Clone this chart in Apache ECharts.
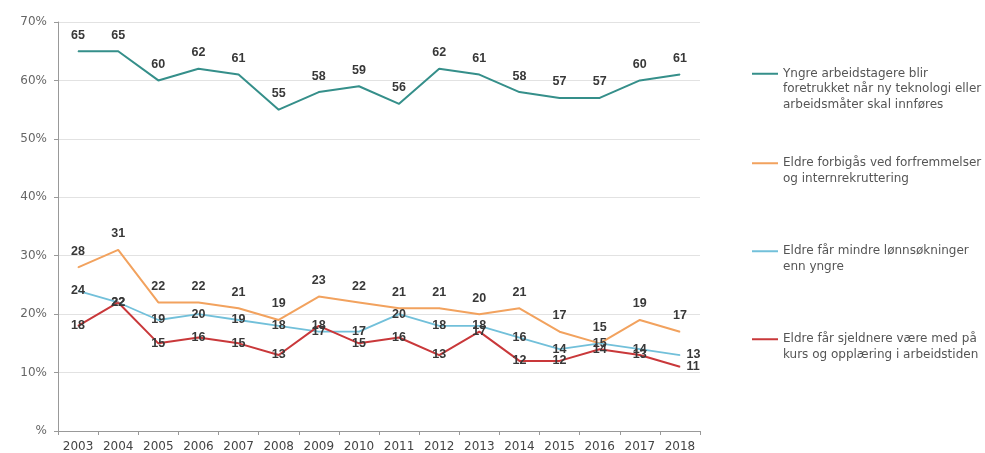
<!DOCTYPE html>
<html>
<head>
<meta charset="utf-8">
<script src="https://cdn.jsdelivr.net/npm/echarts@6/dist/echarts.min.js"></script>
<style>
html,body{margin:0;padding:0;background:#fff;}
#chart{width:985px;height:453px;}
</style>
</head>
<body>
<div id="chart"></div>
<script>
const years = ['2003','2004','2005','2006','2007','2008','2009','2010','2011','2012','2013','2014','2015','2016','2017','2018'];
const yngreForetrukket = [65,65,60,62,61,55,58,59,56,62,61,58,57,57,60,61];
const eldreForbigas = [28,31,22,22,21,19,23,22,21,21,20,21,17,15,19,17];
const eldreLonn = [24,22,19,20,19,18,17,17,20,18,18,16,14,15,14,13];
const eldreKurs = [18,22,15,16,15,13,18,15,16,13,17,12,12,14,13,11];
const seriesNames = [
  'Yngre arbeidstagere blir foretrukket når ny teknologi eller arbeidsmåter skal innføres',
  'Eldre forbigås ved forfremmelser og internrekruttering',
  'Eldre får mindre lønnsøkninger enn yngre',
  'Eldre får sjeldnere være med på kurs og opplæring i arbeidstiden'
];
const legendLines = [
  ['Yngre arbeidstagere blir','foretrukket når ny teknologi eller','arbeidsmåter skal innføres'],
  ['Eldre forbigås ved forfremmelser','og internrekruttering'],
  ['Eldre får mindre lønnsøkninger','enn yngre'],
  ['Eldre får sjeldnere være med på','kurs og opplæring i arbeidstiden']
];
const colors = ['#358f8a','#f2a25e','#72c0da','#c9383a'];
const legendCenters = [74,163,251,339];
const LH = 15.5;
const FONT = 'DejaVu Sans, sans-serif';

const chart = echarts.init(document.getElementById('chart'), null, {renderer:'canvas'});

function labelData(values, lastRight) {
  return values.map((v, i) => {
    if (lastRight && i === values.length - 1) {
      return {value: v, label: {position: 'right', distance: 6}};
    }
    return v;
  });
}

const labelBase = {show:true, color:'#383838', fontWeight:'bold', fontSize:12.5, fontFamily:'Liberation Sans, Arial, sans-serif'};

const legends = legendLines.map((lines, i) => {
  const padded = new Array(lines.length - 1).fill('').concat(lines);
  const total = padded.length * LH;
  return {
    data: [seriesNames[i]],
    left: 752,
    top: Math.round(legendCenters[i] - total / 2),
    padding: 0,
    orient: 'vertical',
    icon: 'rect',
    itemWidth: 26,
    itemHeight: 2,
    selectedMode: false,
    textStyle: {color:'#555', fontSize:12, lineHeight: LH, fontFamily: FONT},
    formatter: () => padded.join('\n')
  };
});

chart.setOption({
  animation: false,
  color: colors,
  legend: legends,
  grid: {left:58, right:285, top:22, bottom:22, containLabel:false},
  xAxis: {
    type: 'category',
    data: years,
    boundaryGap: true,
    axisLine: {lineStyle:{color:'#999'}},
    axisTick: {show:true, length:4, lineStyle:{color:'#999'}},
    axisLabel: {color:'#444', fontSize:12, margin:10, fontFamily: FONT}
  },
  yAxis: {
    type: 'value',
    min: 0, max: 70, interval: 10,
    axisLine: {show:true, lineStyle:{color:'#999'}},
    axisTick: {show:true, length:4, lineStyle:{color:'#999'}},
    splitLine: {lineStyle:{color:'#e2e2e2'}},
    axisLabel: {color:'#666', fontSize:12, margin:11, fontFamily: FONT,
      formatter: v => v === 0 ? '%' : v + '%'}
  },
  series: [
    {name: seriesNames[0], type:'line', data: yngreForetrukket, symbol:'circle', symbolSize:1,
      lineStyle:{width:2, color:colors[0]}, itemStyle:{color:colors[0]},
      label: Object.assign({position:'top', distance:9}, labelBase)},
    {name: seriesNames[1], type:'line', data: eldreForbigas, symbol:'circle', symbolSize:1,
      lineStyle:{width:2, color:colors[1]}, itemStyle:{color:colors[1]},
      label: Object.assign({position:'top', distance:9}, labelBase)},
    {name: seriesNames[2], type:'line', data: labelData(eldreLonn, true), symbol:'circle', symbolSize:1,
      lineStyle:{width:1.8, color:colors[2]}, itemStyle:{color:colors[2]},
      label: Object.assign({position:'inside'}, labelBase)},
    {name: seriesNames[3], type:'line', data: labelData(eldreKurs, true), symbol:'circle', symbolSize:1,
      lineStyle:{width:2, color:colors[3]}, itemStyle:{color:colors[3]},
      label: Object.assign({position:'inside'}, labelBase)}
  ]
});
</script>
</body>
</html>
